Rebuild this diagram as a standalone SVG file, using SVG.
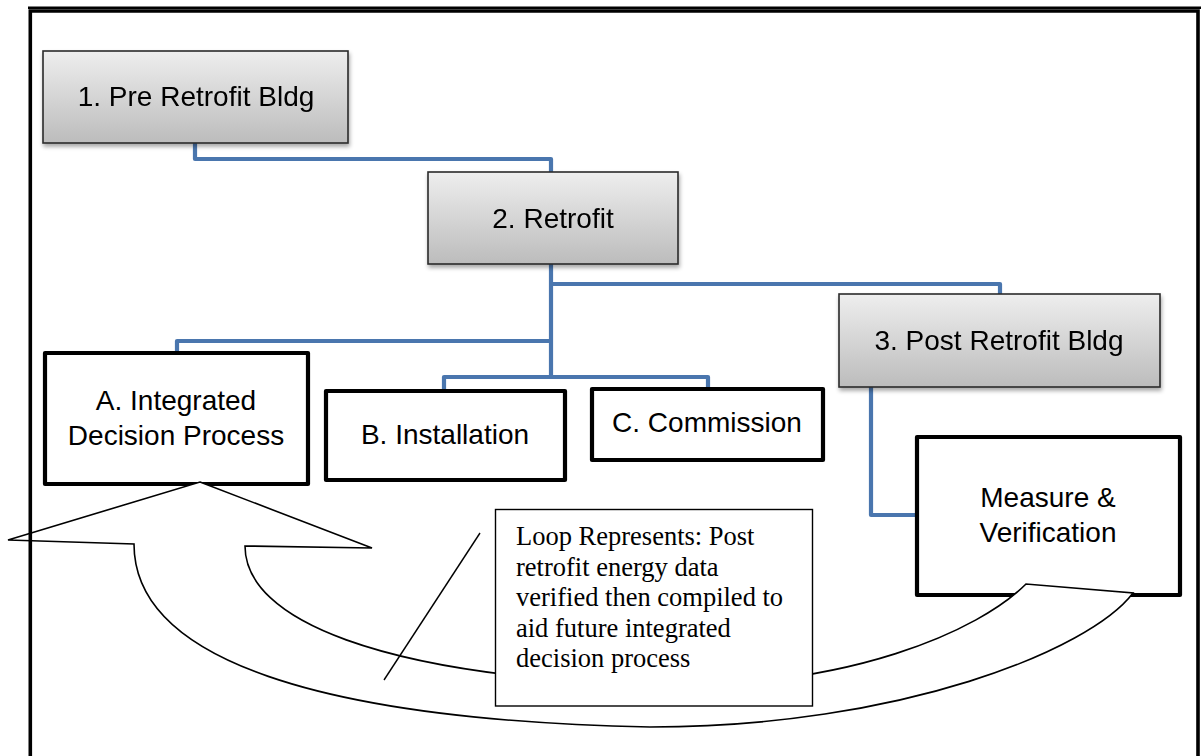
<svg xmlns="http://www.w3.org/2000/svg" width="1201" height="756" viewBox="0 0 1201 756">
<defs>
<linearGradient id="gray" x1="0" y1="0" x2="0" y2="1">
<stop offset="0" stop-color="#eeeeee"/>
<stop offset="1" stop-color="#bcbcbc"/>
</linearGradient>
<filter id="shadow" x="-10%" y="-10%" width="120%" height="130%">
<feGaussianBlur in="SourceAlpha" stdDeviation="2"/>
<feOffset dx="1" dy="3" result="b"/>
<feComponentTransfer><feFuncA type="linear" slope="0.35"/></feComponentTransfer>
<feMerge><feMergeNode/><feMergeNode in="SourceGraphic"/></feMerge>
</filter>
</defs>
<style>
.gbox{fill:url(#gray);stroke:#2a2a2a;stroke-width:1.6}
.wbox{fill:#ffffff;stroke:#000000;stroke-width:4.2;stroke-linejoin:round}
.lbl{font-family:"Liberation Sans",Arial,sans-serif;font-size:28px;fill:#000000;text-anchor:middle}
.conn{fill:none;stroke:#4a76ae;stroke-width:4.2;stroke-linejoin:round}
.note{font-family:"Liberation Serif","Times New Roman",serif;font-size:26.5px;fill:#000000}
.thin{fill:none;stroke:#000000;stroke-width:1.4}
</style>
<rect x="0" y="0" width="1201" height="756" fill="#ffffff"/>

<g id="connectors">
<path class="conn" d="M195,143 V159 H551 V172"/>
<path class="conn" d="M551,264 V377"/>
<path class="conn" d="M551,284 H1000 V294"/>
<path class="conn" d="M551,341 H177 V351"/>
<path class="conn" d="M444,389 V377 H708 V387"/>
<path class="conn" d="M871,387 V515 H915"/>
</g>

<g id="node-pre-retrofit" filter="url(#shadow)">
<rect class="gbox" x="43" y="51" width="305" height="92"/>
<text class="lbl" x="196" y="106">1. Pre Retrofit Bldg</text>
</g>
<g id="node-retrofit" filter="url(#shadow)">
<rect class="gbox" x="428" y="172" width="250" height="92"/>
<text class="lbl" x="553" y="228">2. Retrofit</text>
</g>
<g id="node-post-retrofit" filter="url(#shadow)">
<rect class="gbox" x="839" y="294" width="321" height="93"/>
<text class="lbl" x="999" y="350">3. Post Retrofit Bldg</text>
</g>

<g id="node-integrated">
<rect class="wbox" x="45" y="353" width="263" height="131" stroke-width="4.6"/>
<text class="lbl" x="176" y="410">A. Integrated</text>
<text class="lbl" x="176" y="445">Decision Process</text>
</g>
<g id="node-installation">
<rect class="wbox" x="326" y="391" width="239" height="89"/>
<text class="lbl" x="445" y="444">B. Installation</text>
</g>
<g id="node-commission">
<rect class="wbox" x="592" y="389" width="231" height="71"/>
<text class="lbl" x="707" y="432">C. Commission</text>
</g>
<g id="node-measure">
<rect class="wbox" x="917" y="437" width="263" height="158"/>
<text class="lbl" x="1048" y="507">Measure &amp;</text>
<text class="lbl" x="1048" y="542">Verification</text>
</g>

<g id="loop-arrow">
<path fill="#ffffff" stroke="#000000" stroke-width="1.6" stroke-linejoin="miter" d="M200,482 L372,548 L245,546 C245,620 380,676 650,685 C850,690 980,630 1026,584 L1133,593 C1090,650 900,727 650,727 C320,720 134,660 134,544 L8,540 Z"/>
</g>

<g id="node-note">
<rect x="495.5" y="509.5" width="317" height="196.5" fill="#ffffff" stroke="#000000" stroke-width="1.4"/>
<text class="note" x="516" y="545">Loop Represents: Post</text>
<text class="note" x="516" y="575.5">retrofit energy data</text>
<text class="note" x="516" y="606">verified then compiled to</text>
<text class="note" x="516" y="636.5">aid future integrated</text>
<text class="note" x="516" y="667">decision process</text>
</g>
<line class="thin" x1="480" y1="533" x2="384" y2="680"/>

<g id="frame">
<path fill="none" stroke="#000000" stroke-width="2.4" d="M28,7.7 H1201"/>
<path fill="none" stroke="#000000" stroke-width="3.6" d="M30.3,756 V11 H1198 V756"/>
</g>
</svg>
